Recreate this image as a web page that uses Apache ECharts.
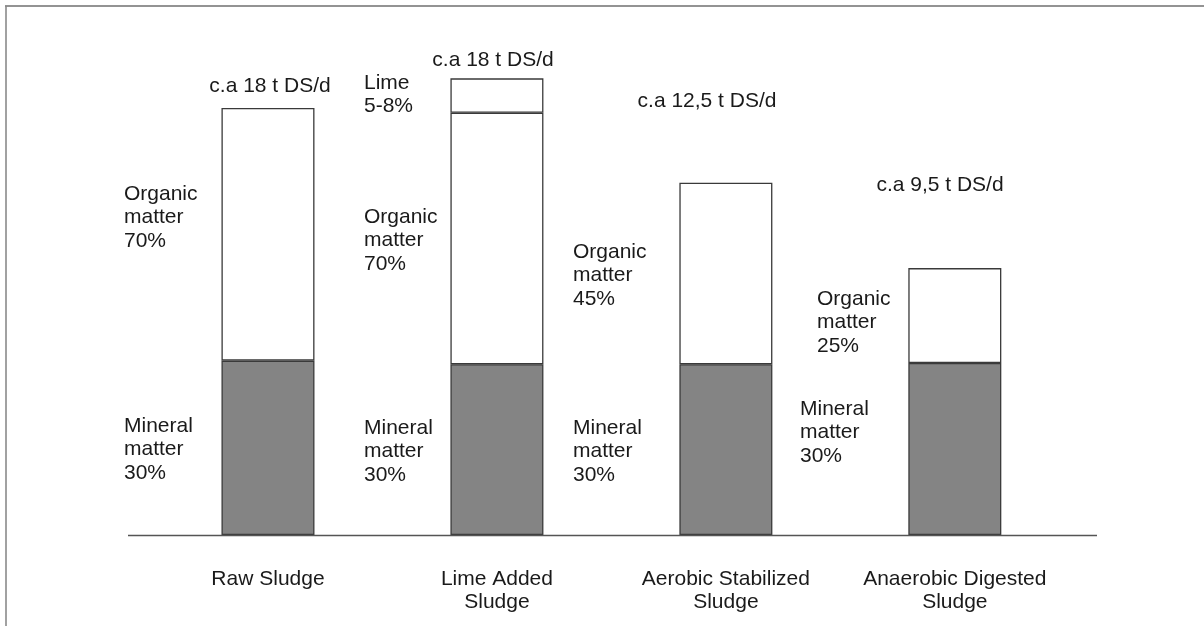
<!DOCTYPE html>
<html>
<head>
<meta charset="utf-8">
<script src="https://cdn.jsdelivr.net/npm/echarts@6/dist/echarts.min.js"></script>
<style>html,body{margin:0;padding:0;background:#fff}#c{width:1204px;height:626px}</style>
</head>
<body>
<div id="c"></div>
<script>
// Data (relative heights, in t DS/d-like units)
var categories = ['Raw Sludge', 'Lime Added\nSludge', 'Aerobic Stabilized\nSludge', 'Anaerobic Digested\nSludge'];
var mineral = [7.35, 7.2, 7.2, 7.25];
var organic = [10.65, 10.6, 7.65, 4.0];
var lime = [null, 1.45, null, null];
var totalLabels = ['c.a 18 t DS/d', 'c.a 18 t DS/d', 'c.a 12,5 t DS/d', 'c.a 9,5 t DS/d'];
var organicLabels = ['Organic\nmatter\n70%', 'Organic\nmatter\n70%', 'Organic\nmatter\n45%', 'Organic\nmatter\n25%'];
var mineralLabels = ['Mineral\nmatter\n30%', 'Mineral\nmatter\n30%', 'Mineral\nmatter\n30%', 'Mineral\nmatter\n30%'];
var limeLabel = 'Lime\n5-8%';

var FONT = '21px "Liberation Sans", Arial, sans-serif';
var LH = 23.5;
var TXT = '#1a1a1a';

function txt(s, x, yCenterFirst, align) {
  return {
    type: 'text', silent: true,
    style: {
      text: s, x: x, y: yCenterFirst - LH / 2,
      font: FONT, fill: TXT, lineHeight: LH,
      textAlign: align || 'left', textVerticalAlign: 'top'
    }
  };
}

var graphics = [
  // outer frame (top and left)
  {type: 'line', silent: true, shape: {x1: 5, y1: 6, x2: 1204, y2: 6}, style: {stroke: '#6f6f6f', lineWidth: 1.6}},
  {type: 'line', silent: true, shape: {x1: 6, y1: 6, x2: 6, y2: 626}, style: {stroke: '#8a8a8a', lineWidth: 1.6}},
  // baseline
  {type: 'line', silent: true, z: 10, shape: {x1: 128, y1: 535.5, x2: 1097, y2: 535.5}, style: {stroke: '#555', lineWidth: 1.6}},
  txt(totalLabels[0], 270, 86, 'center'),
  txt(totalLabels[1], 493, 60, 'center'),
  txt(totalLabels[2], 707, 101, 'center'),
  txt(totalLabels[3], 940, 185, 'center'),
  txt(limeLabel, 364, 83),
  txt(organicLabels[0], 124, 194),
  txt(organicLabels[1], 364, 217),
  txt(organicLabels[2], 573, 252),
  txt(organicLabels[3], 817, 299),
  txt(mineralLabels[0], 124, 426),
  txt(mineralLabels[1], 364, 428),
  txt(mineralLabels[2], 573, 428),
  txt(mineralLabels[3], 800, 409)
];

var chart = echarts.init(document.getElementById('c'), null, {renderer: 'canvas'});
var border = {borderColor: '#3a3a3a', borderWidth: 1.3};
chart.setOption({
  animation: false,
  backgroundColor: '#fff',
  grid: {left: 153.5, right: 134.7, top: 13.1, bottom: 91},
  xAxis: {
    type: 'category', data: categories,
    axisLine: {show: false}, axisTick: {show: false},
    axisLabel: {margin: 32, color: TXT, fontSize: 21, fontFamily: '"Liberation Sans", Arial, sans-serif', lineHeight: LH, interval: 0}
  },
  yAxis: {type: 'value', min: 0, max: 22, show: false, splitLine: {show: false}},
  series: [
    {name: 'Mineral matter', type: 'bar', stack: 's', barWidth: 93, data: mineral,
     itemStyle: Object.assign({color: '#848484'}, border)},
    {name: 'Organic matter', type: 'bar', stack: 's', barWidth: 93, data: organic,
     itemStyle: Object.assign({color: '#ffffff'}, border)},
    {name: 'Lime', type: 'bar', stack: 's', barWidth: 93, data: lime,
     itemStyle: Object.assign({color: '#ffffff'}, border)}
  ],
  graphic: graphics
});
</script>
</body>
</html>
